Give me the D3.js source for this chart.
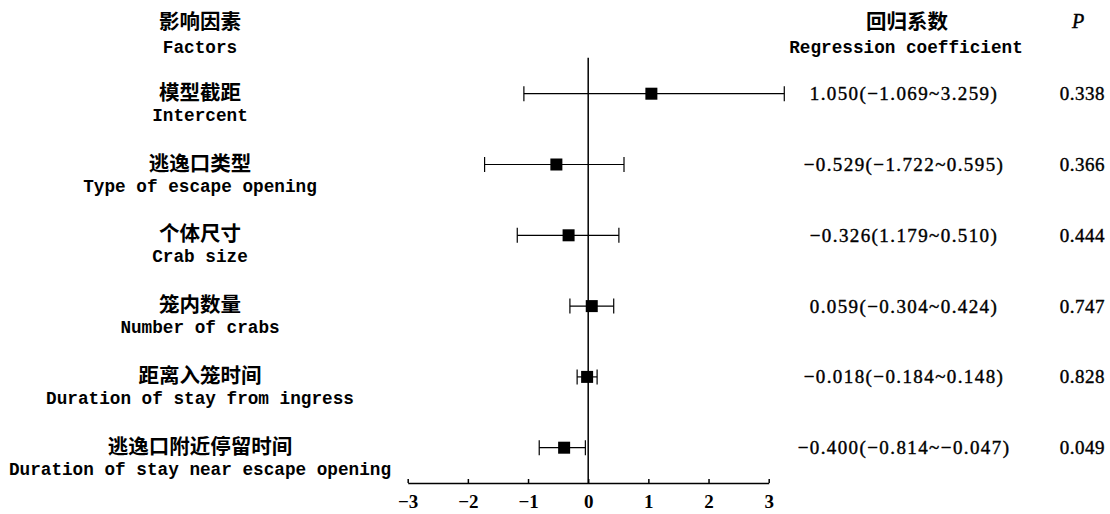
<!DOCTYPE html>
<html>
<head>
<meta charset="utf-8">
<script src="https://cdn.jsdelivr.net/npm/d3@7"></script>
<style>
  html, body { margin: 0; padding: 0; background: #fff; }
  svg { display: block; }
</style>
</head>
<body>
<svg id="chart" width="1110" height="514"></svg>
<script>
// ---------- data ----------
const factorsZh = ["模型截距", "逃逸口类型", "个体尺寸", "笼内数量", "距离入笼时间", "逃逸口附近停留时间"];
const factorsEn = ["Intercent", "Type of escape opening", "Crab size", "Number of crabs", "Duration of stay from ingress", "Duration of stay near escape opening"];
const estimates = [1.050, -0.529, -0.326, 0.059, -0.018, -0.400];
const lowerCI   = [-1.069, -1.722, -1.179, -0.304, -0.184, -0.814];
const upperCI   = [3.259, 0.595, 0.510, 0.424, 0.148, -0.047];
const coefLabels = [
  "1.050(−1.069~3.259)",
  "−0.529(−1.722~0.595)",
  "−0.326(1.179~0.510)",
  "0.059(−0.304~0.424)",
  "−0.018(−0.184~0.148)",
  "−0.400(−0.814~−0.047)"
];
const pValues = ["0.338", "0.366", "0.444", "0.747", "0.828", "0.049"];
const xTicks = [-3, -2, -1, 0, 1, 2, 3];
const headerFactorsZh = "影响因素", headerFactorsEn = "Factors";
const headerCoefZh = "回归系数", headerCoefEn = "Regression coefficient";
const headerP = "P";

// ---------- layout ----------
const svg = d3.select("#chart");
const CJK = "'Noto Sans CJK SC', 'Noto Sans CJK JP', sans-serif";
const MONO = "'Liberation Mono', 'DejaVu Sans Mono', monospace";
const SERIF = "'Liberation Serif', 'DejaVu Serif', serif";

const x = d3.scaleLinear().domain([-3, 3]).range([407.7, 768.7]);
const y = d3.scalePoint().domain(d3.range(factorsZh.length)).range([93.7, 447.7]);
const axisY = 483;
const labelX = 200, coefX = 904, pX = 1105;

const rows = factorsZh.map((zh, i) => ({
  i, zh, en: factorsEn[i], est: estimates[i], lo: lowerCI[i], hi: upperCI[i],
  coef: coefLabels[i], p: pValues[i]
}));

// headers
svg.append("text").attr("x", labelX).attr("y", 20).attr("text-anchor", "middle")
  .attr("dominant-baseline", "central").style("font-family", CJK).style("font-weight", 700)
  .style("font-size", "20.5px").text(headerFactorsZh);
svg.append("text").attr("x", labelX).attr("y", 53).attr("text-anchor", "middle")
  .style("font-family", MONO).style("font-weight", 700).style("font-size", "17.7px").text(headerFactorsEn);
svg.append("text").attr("x", 907).attr("y", 20).attr("text-anchor", "middle")
  .attr("dominant-baseline", "central").style("font-family", CJK).style("font-weight", 700)
  .style("font-size", "20.5px").text(headerCoefZh);
svg.append("text").attr("x", 906).attr("y", 53).attr("text-anchor", "middle")
  .style("font-family", MONO).style("font-weight", 700).style("font-size", "17.7px").text(headerCoefEn);
svg.append("text").attr("x", 1078).attr("y", 28).attr("text-anchor", "middle")
  .style("font-family", SERIF).style("font-style", "italic")
  .attr("stroke", "#000").attr("stroke-width", 0.4)
  .style("font-size", "20px").text(headerP);

// left labels
const lab = svg.append("g");
lab.selectAll("text.zh").data(rows).join("text").attr("class", "zh")
  .attr("x", labelX).attr("y", d => y(d.i) - 3).attr("text-anchor", "middle")
  .attr("dominant-baseline", "central").style("font-family", CJK).style("font-weight", 700)
  .style("font-size", "20.5px").text(d => d.zh);
lab.selectAll("text.en").data(rows).join("text").attr("class", "en")
  .attr("x", labelX).attr("y", d => y(d.i) + 27).attr("text-anchor", "middle")
  .style("font-family", MONO).style("font-weight", 700).style("font-size", "17.7px").text(d => d.en);

// right columns
svg.append("g").selectAll("text").data(rows).join("text")
  .attr("x", coefX).attr("y", d => y(d.i) + 6.5).attr("text-anchor", "middle")
  .attr("stroke", "#000").attr("stroke-width", 0.4)
  .style("font-family", SERIF).style("font-size", "19px")
  .style("letter-spacing", "1.4px").text(d => d.coef);
svg.append("g").selectAll("text").data(rows).join("text")
  .attr("x", pX).attr("y", d => y(d.i) + 6.5).attr("text-anchor", "end")
  .attr("stroke", "#000").attr("stroke-width", 0.4)
  .style("font-family", SERIF).style("font-size", "19px")
  .style("letter-spacing", "0.5px").text(d => d.p);

// zero reference line
svg.append("line").attr("x1", x(0)).attr("x2", x(0)).attr("y1", 57.7).attr("y2", axisY)
  .attr("stroke", "#000").attr("stroke-width", 1.5);

// error bars
const eb = svg.append("g").attr("stroke", "#000").attr("stroke-width", 1.2);
eb.selectAll("line.ci").data(rows).join("line").attr("class", "ci")
  .attr("x1", d => x(d.lo)).attr("x2", d => x(d.hi)).attr("y1", d => y(d.i)).attr("y2", d => y(d.i));
eb.selectAll("line.capl").data(rows).join("line").attr("class", "capl")
  .attr("x1", d => x(d.lo)).attr("x2", d => x(d.lo)).attr("y1", d => y(d.i) - 7.5).attr("y2", d => y(d.i) + 7.5);
eb.selectAll("line.caph").data(rows).join("line").attr("class", "caph")
  .attr("x1", d => x(d.hi)).attr("x2", d => x(d.hi)).attr("y1", d => y(d.i) - 7.5).attr("y2", d => y(d.i) + 7.5);

// squares
const sq = 12;
svg.append("g").selectAll("rect").data(rows).join("rect")
  .attr("x", d => x(d.est) - sq / 2).attr("y", d => y(d.i) - sq / 2)
  .attr("width", sq).attr("height", sq).attr("fill", "#000");

// x axis
const axis = d3.axisBottom(x).tickValues(xTicks).tickSizeInner(-4).tickSizeOuter(0).tickPadding(12)
  .tickFormat(d3.format("d"));
const ax = svg.append("g").attr("transform", `translate(0,${axisY})`).call(axis);
ax.select(".domain").attr("stroke", "#000").attr("stroke-width", 1.5);
ax.selectAll(".tick line").attr("stroke", "#000").attr("stroke-width", 1.5);
ax.selectAll(".tick text").style("font-family", SERIF).style("font-size", "19px")
  .style("font-weight", 700).attr("fill", "#000");
</script>
</body>
</html>
